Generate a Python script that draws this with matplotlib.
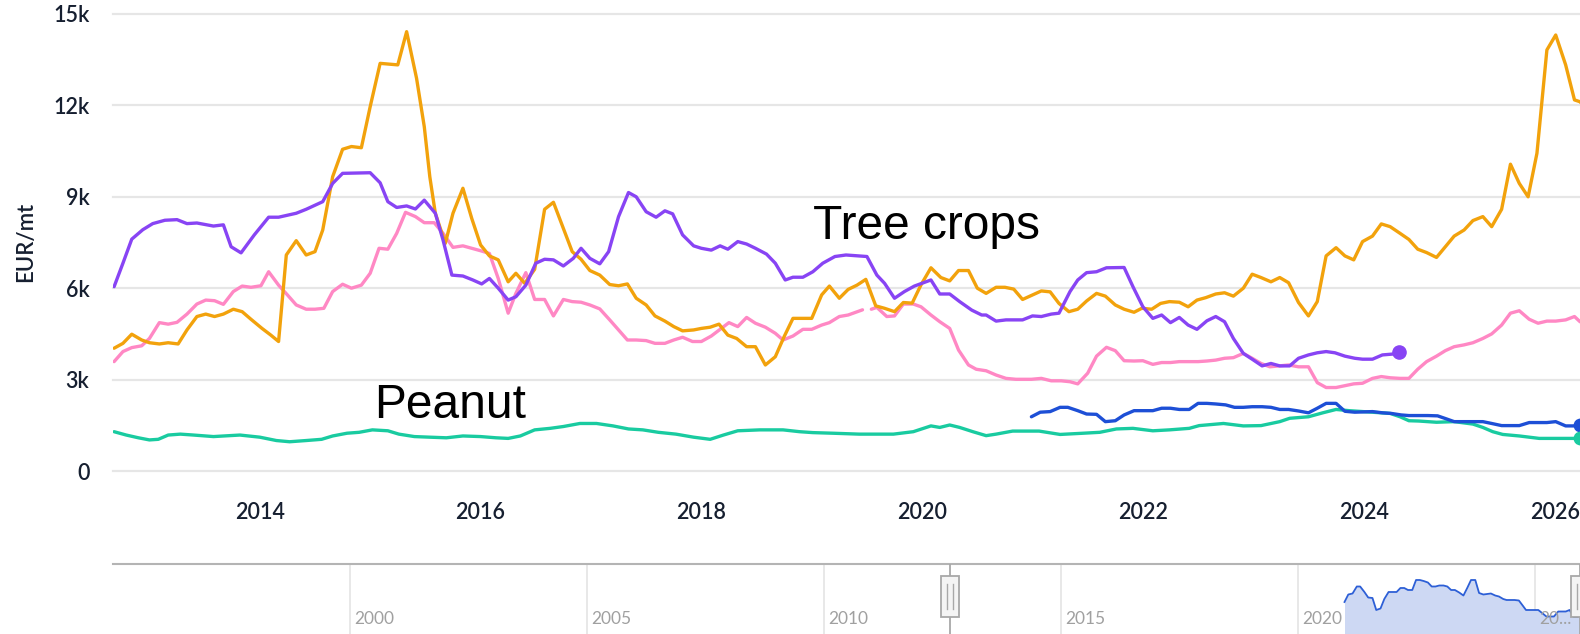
import numpy as np
import matplotlib
matplotlib.use('Agg')
import matplotlib.pyplot as plt
import matplotlib.transforms as mtransforms
from matplotlib.patches import Rectangle


# monthly prices, EUR/mt (decimal year, value)
t_orange = [
    2012.68, 2012.76, 2012.84, 2012.93, 2013.00, 2013.09, 2013.17, 2013.26,
    2013.34, 2013.43, 2013.51, 2013.59, 2013.67, 2013.76, 2013.84, 2013.92,
    2014.02, 2014.10, 2014.17, 2014.24, 2014.33, 2014.42, 2014.50, 2014.57,
    2014.66, 2014.75, 2014.83, 2014.92, 2015.00, 2015.09, 2015.25, 2015.33,
    2015.42, 2015.49, 2015.54, 2015.59, 2015.68, 2015.75, 2015.84, 2015.92,
    2016.00, 2016.08, 2016.16, 2016.25, 2016.32, 2016.40, 2016.49, 2016.58,
    2016.66, 2016.75, 2016.83, 2016.91, 2016.99, 2017.08, 2017.17, 2017.25,
    2017.33, 2017.41, 2017.50, 2017.58, 2017.67, 2017.75, 2017.83, 2017.93,
    2018.00, 2018.08, 2018.16, 2018.24, 2018.32, 2018.41, 2018.49, 2018.58,
    2018.67, 2018.75, 2018.83, 2018.92, 2019.00, 2019.09, 2019.16, 2019.25,
    2019.33, 2019.41, 2019.49, 2019.58, 2019.66, 2019.75, 2019.83, 2019.91,
    2019.99, 2020.08, 2020.17, 2020.25, 2020.33, 2020.42, 2020.50, 2020.58,
    2020.67, 2020.75, 2020.83, 2020.91, 2021.00, 2021.08, 2021.16, 2021.24,
    2021.33, 2021.41, 2021.49, 2021.58, 2021.66, 2021.75, 2021.83, 2021.92,
    2021.99, 2022.08, 2022.16, 2022.24, 2022.33, 2022.41, 2022.49, 2022.57,
    2022.66, 2022.74, 2022.82, 2022.91, 2022.99, 2023.07, 2023.16, 2023.24,
    2023.32, 2023.41, 2023.50, 2023.58, 2023.66, 2023.75, 2023.83, 2023.91,
    2023.99, 2024.08, 2024.16, 2024.24, 2024.33, 2024.41, 2024.49, 2024.57,
    2024.66, 2024.74, 2024.82, 2024.91, 2024.99, 2025.08, 2025.16, 2025.25,
    2025.33, 2025.41, 2025.49, 2025.57, 2025.66, 2025.74, 2025.83, 2025.91,
    2025.96, 2026.04]
v_orange = [
    4030, 4190, 4490, 4300, 4210, 4170, 4210, 4170,
    4630, 5070, 5150, 5070, 5150, 5310, 5230, 4980,
    4680, 4460, 4250, 7090, 7560, 7090, 7200, 7910,
    9660, 10560, 10650, 10610, 11960, 13380, 13330, 14420,
    12890, 11300, 9660, 8460, 7470, 8460, 9280, 8290,
    7420, 7060, 6930, 6210, 6490, 6160, 6620, 8590,
    8820, 7960, 7200, 6950, 6580, 6430, 6120, 6080,
    6140, 5670, 5450, 5090, 4920, 4740, 4600, 4630,
    4680, 4720, 4820, 4460, 4350, 4080, 4080, 3480,
    3750, 4410, 5010, 5010, 5010, 5780, 6070, 5670,
    5960, 6100, 6290, 5420, 5340, 5230, 5530, 5510,
    6110, 6670, 6350, 6240, 6580, 6580, 6000, 5830,
    6030, 6030, 5970, 5630, 5780, 5910, 5880, 5500,
    5230, 5310, 5580, 5830, 5740, 5450, 5310, 5210,
    5340, 5310, 5500, 5560, 5540, 5390, 5610, 5690,
    5810, 5850, 5740, 6000, 6460, 6350, 6210, 6350,
    6180, 5530, 5090, 5560, 7060, 7330, 7060, 6930,
    7530, 7710, 8110, 8020, 7800, 7600, 7280, 7170,
    7010, 7360, 7710, 7910, 8220, 8350, 8020, 8590,
    10070, 9440, 9000, 10430, 13820, 14310, 13330, 12180,
    12120, 11800]

t_purple = [
    2012.68, 2012.76, 2012.84, 2012.94, 2013.03, 2013.14, 2013.25, 2013.34,
    2013.43, 2013.58, 2013.67, 2013.74, 2013.83, 2013.95, 2014.08, 2014.17,
    2014.33, 2014.42, 2014.57, 2014.66, 2014.75, 2015.00, 2015.09, 2015.16,
    2015.24, 2015.33, 2015.41, 2015.49, 2015.59, 2015.66, 2015.74, 2015.84,
    2015.93, 2016.01, 2016.08, 2016.16, 2016.25, 2016.32, 2016.41, 2016.50,
    2016.58, 2016.66, 2016.75, 2016.84, 2016.91, 2016.99, 2017.08, 2017.16,
    2017.25, 2017.34, 2017.41, 2017.50, 2017.59, 2017.67, 2017.74, 2017.83,
    2017.93, 2018.00, 2018.09, 2018.17, 2018.24, 2018.33, 2018.41, 2018.49,
    2018.59, 2018.67, 2018.76, 2018.83, 2018.92, 2019.01, 2019.10, 2019.21,
    2019.31, 2019.43, 2019.50, 2019.59, 2019.66, 2019.75, 2019.84, 2019.93,
    2020.08, 2020.16, 2020.25, 2020.34, 2020.45, 2020.54, 2020.58, 2020.67,
    2020.76, 2020.91, 2021.00, 2021.08, 2021.17, 2021.24, 2021.34, 2021.41,
    2021.49, 2021.58, 2021.67, 2021.83, 2021.91, 2022.00, 2022.09, 2022.17,
    2022.25, 2022.33, 2022.41, 2022.49, 2022.58, 2022.66, 2022.74, 2022.82,
    2022.91, 2022.99, 2023.08, 2023.16, 2023.24, 2023.33, 2023.41, 2023.50,
    2023.58, 2023.66, 2023.74, 2023.83, 2023.92, 2023.99, 2024.08, 2024.17,
    2024.27, 2024.32]
v_purple = [
    6050, 6820, 7610, 7920, 8120, 8230, 8250, 8120,
    8140, 8040, 8080, 7360, 7160, 7750, 8330, 8330,
    8460, 8590, 8840, 9440, 9770, 9790, 9460, 8840,
    8650, 8700, 8600, 8890, 8460, 7580, 6430, 6400,
    6270, 6140, 6320, 6000, 5610, 5720, 6100, 6820,
    6950, 6930, 6730, 6980, 7310, 6980, 6800, 7200,
    8350, 9140, 9000, 8510, 8330, 8540, 8440, 7750,
    7390, 7310, 7250, 7390, 7280, 7530, 7450, 7310,
    7120, 6820, 6270, 6360, 6360, 6540, 6820, 7040,
    7090, 7060, 7040, 6430, 6160, 5670, 5890, 6070,
    6270, 5810, 5810, 5560, 5280, 5120, 5120, 4920,
    4960, 4960, 5090, 5070, 5150, 5180, 5890, 6270,
    6510, 6540, 6670, 6680, 6050, 5390, 5010, 5120,
    4870, 5040, 4790, 4650, 4930, 5070, 4900, 4350,
    3860, 3670, 3450, 3530, 3450, 3450, 3700, 3810,
    3880, 3920, 3880, 3770, 3700, 3670, 3670, 3810,
    3840, 3920]

t_pink = [
    2012.68, 2012.76, 2012.84, 2012.93, 2013.00, 2013.09, 2013.17, 2013.25,
    2013.34, 2013.43, 2013.51, 2013.59, 2013.67, 2013.76, 2013.84, 2013.92,
    2014.01, 2014.08, 2014.17, 2014.25, 2014.33, 2014.42, 2014.50, 2014.58,
    2014.66, 2014.75, 2014.83, 2014.92, 2015.00, 2015.08, 2015.16, 2015.24,
    2015.32, 2015.41, 2015.49, 2015.58, 2015.66, 2015.75, 2015.84, 2015.92,
    2016.00, 2016.08, 2016.16, 2016.25, 2016.32, 2016.41, 2016.49, 2016.58,
    2016.66, 2016.75, 2016.83, 2016.91, 2016.99, 2017.08, 2017.17, 2017.25,
    2017.33, 2017.41, 2017.50, 2017.58, 2017.67, 2017.75, 2017.83, 2017.92,
    2018.00, 2018.09, 2018.17, 2018.25, 2018.33, 2018.41, 2018.49, 2018.58,
    2018.67, 2018.74, 2018.83, 2018.92, 2019.00, 2019.09, 2019.16, 2019.25,
    2019.33, 2019.46, 2019.50, 2019.54, 2019.59, 2019.68, 2019.75, 2019.83,
    2019.92, 2019.99, 2020.08, 2020.16, 2020.25, 2020.33, 2020.42, 2020.49,
    2020.58, 2020.67, 2020.76, 2020.85, 2020.99, 2021.08, 2021.17, 2021.26,
    2021.34, 2021.41, 2021.50, 2021.58, 2021.67, 2021.75, 2021.83, 2021.92,
    2022.00, 2022.09, 2022.17, 2022.25, 2022.33, 2022.42, 2022.50, 2022.58,
    2022.66, 2022.74, 2022.82, 2022.91, 2022.99, 2023.07, 2023.15, 2023.24,
    2023.32, 2023.41, 2023.50, 2023.58, 2023.66, 2023.75, 2023.83, 2023.91,
    2023.99, 2024.08, 2024.16, 2024.24, 2024.33, 2024.41, 2024.49, 2024.57,
    2024.66, 2024.74, 2024.82, 2024.91, 2024.99, 2025.08, 2025.16, 2025.25,
    2025.33, 2025.41, 2025.50, 2025.58, 2025.66, 2025.74, 2025.83, 2025.91,
    2025.96, 2026.04]
v_pink = [
    3590, 3920, 4050, 4110, 4350, 4870, 4820, 4880,
    5150, 5480, 5610, 5590, 5470, 5890, 6070, 6030,
    6080, 6540, 6100, 5780, 5450, 5310, 5310, 5340,
    5890, 6130, 6000, 6100, 6490, 7310, 7280, 7800,
    8490, 8350, 8150, 8150, 7800, 7340, 7390, 7310,
    7230, 7140, 6320, 5180, 5830, 6510, 5630, 5630,
    5090, 5630, 5560, 5540, 5450, 5320, 4960, 4630,
    4300, 4300, 4280, 4190, 4190, 4300, 4390, 4250,
    4250, 4430, 4650, 4870, 4740, 5040, 4850, 4720,
    4520, 4300, 4430, 4650, 4650, 4790, 4870, 5070,
    5120, 5290, np.nan, 5310, 5370, 5070, 5090, 5480,
    5480, 5390, 5120, 4900, 4680, 3970, 3480, 3340,
    3290, 3150, 3040, 3010, 3010, 3040, 2960, 2960,
    2930, 2860, 3210, 3770, 4060, 3950, 3620, 3610,
    3620, 3500, 3560, 3560, 3590, 3590, 3590, 3610,
    3640, 3700, 3720, 3860, 3700, 3530, 3420, 3450,
    3480, 3420, 3420, 2900, 2740, 2740, 2800, 2860,
    2880, 3040, 3100, 3060, 3040, 3040, 3340, 3590,
    3770, 3950, 4080, 4140, 4210, 4350, 4500, 4790,
    5180, 5260, 4980, 4850, 4920, 4920, 4960, 5070,
    4900, 4800]

t_blue = [
    2020.99, 2021.07, 2021.16, 2021.25, 2021.32, 2021.41, 2021.49, 2021.58,
    2021.66, 2021.75, 2021.83, 2021.92, 2022.00, 2022.09, 2022.17, 2022.25,
    2022.33, 2022.42, 2022.50, 2022.58, 2022.66, 2022.75, 2022.83, 2022.91,
    2022.99, 2023.08, 2023.16, 2023.24, 2023.32, 2023.41, 2023.50, 2023.58,
    2023.66, 2023.75, 2023.83, 2023.92, 2024.08, 2024.17, 2024.25, 2024.34,
    2024.41, 2024.50, 2024.58, 2024.67, 2024.75, 2024.82, 2024.91, 2024.99,
    2025.08, 2025.16, 2025.25, 2025.33, 2025.41, 2025.50, 2025.58, 2025.66,
    2025.74, 2025.83, 2025.91, 2025.96]
v_blue = [
    1780, 1930, 1950, 2090, 2090, 1980, 1870, 1860,
    1620, 1650, 1840, 1980, 1980, 1980, 2060, 2060,
    2020, 2020, 2220, 2220, 2200, 2170, 2090, 2090,
    2110, 2110, 2090, 2020, 2020, 1970, 1910, 2060,
    2220, 2220, 1960, 1930, 1950, 1910, 1890, 1840,
    1820, 1820, 1820, 1810, 1710, 1620, 1620, 1620,
    1620, 1560, 1490, 1490, 1490, 1590, 1590, 1590,
    1620, 1480, 1480, 1520]

t_green = [
    2012.68, 2012.79, 2012.90, 2013.00, 2013.08, 2013.17, 2013.28, 2013.40,
    2013.58, 2013.82, 2014.00, 2014.15, 2014.27, 2014.42, 2014.56, 2014.66,
    2014.79, 2014.90, 2015.02, 2015.16, 2015.26, 2015.40, 2015.54, 2015.69,
    2015.84, 2016.00, 2016.14, 2016.25, 2016.36, 2016.49, 2016.63, 2016.75,
    2016.90, 2017.05, 2017.20, 2017.34, 2017.47, 2017.61, 2017.77, 2017.93,
    2018.08, 2018.20, 2018.33, 2018.53, 2018.74, 2018.89, 2019.01, 2019.19,
    2019.43, 2019.74, 2019.92, 2020.08, 2020.16, 2020.25, 2020.34, 2020.46,
    2020.58, 2020.67, 2020.82, 2021.06, 2021.25, 2021.46, 2021.61, 2021.76,
    2021.91, 2022.09, 2022.24, 2022.42, 2022.51, 2022.73, 2022.91, 2023.07,
    2023.24, 2023.33, 2023.50, 2023.63, 2023.75, 2023.87, 2024.24, 2024.33,
    2024.41, 2024.50, 2024.66, 2024.82, 2024.99, 2025.08, 2025.17, 2025.26,
    2025.41, 2025.59, 2025.74, 2025.96]
v_green = [
    1290, 1180, 1090, 1020, 1040, 1180, 1210, 1180,
    1130, 1180, 1110, 1000, 960, 1000, 1040, 1150,
    1240, 1270, 1350, 1320, 1210, 1130, 1110, 1090,
    1150, 1130, 1090, 1070, 1150, 1350, 1400, 1460,
    1560, 1560, 1480, 1380, 1350, 1270, 1210, 1110,
    1040, 1180, 1320, 1350, 1350, 1290, 1260, 1240,
    1210, 1210, 1290, 1480, 1430, 1510, 1430, 1290,
    1160, 1210, 1310, 1310, 1200, 1240, 1270, 1380,
    1400, 1320, 1350, 1400, 1490, 1560, 1480, 1490,
    1620, 1730, 1780, 1910, 2020, 1980, 1890, 1780,
    1650, 1640, 1600, 1620, 1540, 1430, 1290, 1200,
    1150, 1070, 1070, 1070]

year_ticks = [2014, 2016, 2018, 2020, 2022, 2024]
value_ticks = [0, 3000, 6000, 9000, 12000, 15000]
value_labels = ['0', '3k', '6k', '9k', '12k', '15k']
nav_years = [2000, 2005, 2010, 2015, 2020, 2025]
nav_labels = ['2000', '2005', '2010', '2015', '2020', '20...']

X0, X1 = 2012.67, 2025.96
NAV_X0 = 1995.0

TEXT_COLOR = '#161f30'
GRID_COLOR = '#e6e6e6'
C_ORANGE = '#f2a20c'
C_PURPLE = '#8844f4'
C_PINK = '#ff88c4'
C_BLUE = '#1d4fd6'
C_GREEN = '#19cba0'
TICK_FONT = dict(family='Lato', weight='semibold')


def draw_main(fig):
    """."""
    ax = fig.add_axes([113/1580, 163/634, 1467/1580, 457/634])
    ax.set_xlim(X0, X1)
    ax.set_ylim(0, 15000)
    for spine in ax.spines.values():
        spine.set_visible(False)
    for val in value_ticks:
        ax.axhline(val, color=GRID_COLOR, lw=1.6, zorder=0, clip_on=False)

    ax.set_yticks(value_ticks)
    ax.set_yticklabels(value_labels)
    ax.set_xticks(year_ticks)
    ax.set_xticklabels([str(y) for y in year_ticks])
    ax.tick_params(axis='y', length=0, pad=17, labelsize=15.5,
                   labelcolor=TEXT_COLOR)
    ax.tick_params(axis='x', length=0, pad=22, labelsize=15.5,
                   labelcolor=TEXT_COLOR)
    for lbl in ax.get_xticklabels() + ax.get_yticklabels():
        lbl.set_family(TICK_FONT['family'])
        lbl.set_weight(TICK_FONT['weight'])
    # last year label sits against the right border
    trans = mtransforms.blended_transform_factory(ax.transData, ax.transAxes)
    ax.text(X1, -0.0678, '2026', transform=trans, ha='right', va='top',
            fontsize=15.5, color=TEXT_COLOR, clip_on=False, **TICK_FONT)

    series = [
        (t_pink, v_pink, C_PINK),
        (t_green, v_green, C_GREEN),
        (t_blue, v_blue, C_BLUE),
        (t_orange, v_orange, C_ORANGE),
        (t_purple, v_purple, C_PURPLE),
    ]
    for tt, vv, col in series:
        ax.plot(tt, vv, color=col, lw=2.4, solid_joinstyle='round',
                solid_capstyle='round')
    ax.plot(t_purple[-1], v_purple[-1], 'o', ms=9.5, color=C_PURPLE)
    ax.plot(t_blue[-1], v_blue[-1], 'o', ms=9, color=C_BLUE)
    ax.plot(t_green[-1], v_green[-1], 'o', ms=9, color=C_GREEN)

    ax.text(2019.01, 7610, 'Tree crops', fontsize=34.5,
            family='Liberation Sans', color='black', va='baseline')
    ax.text(2015.04, 1740, 'Peanut', fontsize=34.5,
            family='Liberation Sans', color='black', va='baseline')

    fig.text(26/1580, 1 - 242/634, 'EUR/mt', rotation=90, ha='center',
             va='center', fontsize=16, color=TEXT_COLOR, **TICK_FONT)
    return ax


def draw_navigator(fig):
    """."""
    nav = fig.add_axes([113/1580, 0, 1467/1580, 70/634])
    nav.set_xlim(NAV_X0, X1)
    nav.set_ylim(1140, 2540)
    nav.set_xticks([])
    nav.set_yticks([])
    for name, spine in nav.spines.items():
        spine.set_visible(name == 'top')
    nav.spines['top'].set_color('#b4b4b4')
    nav.spines['top'].set_linewidth(1.5)

    trans = mtransforms.blended_transform_factory(nav.transData,
                                                  nav.transAxes)
    for yr, lbl in zip(nav_years, nav_labels):
        nav.axvline(yr, color=GRID_COLOR, lw=1.3, zorder=0)
        nav.text(yr + 0.1, 0.22, lbl, transform=trans, ha='left',
                 va='center', fontsize=12.5, family='Lato', color='#a0a0a0',
                 zorder=3)

    nav.fill_between(t_blue, v_blue, 1140, color='#cdd8f3', lw=0, zorder=1)
    nav.plot(t_blue, v_blue, color='#2d5fd6', lw=1.3, zorder=2)

    # range handles at the main window limits
    for xh in (X0, X1):
        nav.axvline(xh, color='#a8a8a8', lw=1.3, zorder=4)
        nav.add_patch(Rectangle((xh - 0.19, 0.245), 0.38, 0.585,
                                transform=trans, fc='#f4f4f4', ec='#a8a8a8',
                                lw=1.3, zorder=5))
        for dx in (-0.06, 0.06):
            nav.plot([xh + dx, xh + dx], [0.36, 0.72], transform=trans,
                     color='#a8a8a8', lw=1.0, zorder=6)
    return nav


fig = plt.figure(figsize=(15.8, 6.34), dpi=100)
fig.patch.set_facecolor('white')
draw_main(fig)
draw_navigator(fig)
fig.savefig('out.png', dpi=100, facecolor='white')
